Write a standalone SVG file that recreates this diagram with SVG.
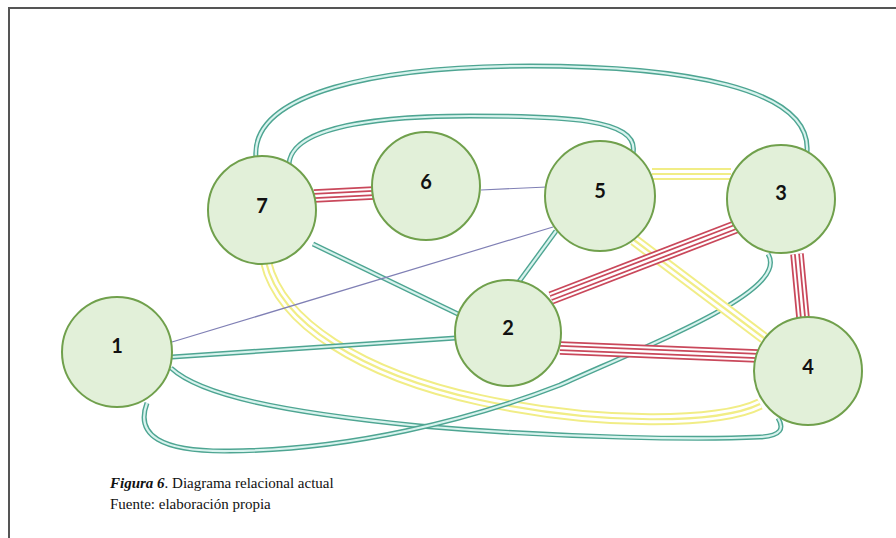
<svg xmlns="http://www.w3.org/2000/svg" width="896" height="538" viewBox="0 0 896 538">
<style>
.bg{fill:#ffffff}
.frame{fill:none;stroke:#555;stroke-width:2}
path{fill:none}
.to{stroke:#4ea592;stroke-width:5}
.ti{stroke:#d8f3ee;stroke-width:2.2}
.r1{stroke:#c9485b;stroke-width:13.5}
.r2{stroke:#ffffff;stroke-width:10}
.r3{stroke:#c9485b;stroke-width:6}
.r4{stroke:#ffffff;stroke-width:2.5}
.y1{stroke:#f1ed86;stroke-width:12}
.y2{stroke:#ffffff;stroke-width:8}
.y3{stroke:#f1ed86;stroke-width:2.2}
.pu{stroke:#8080b5;stroke-width:1.2}
.node circle{fill:#e2f0d9;stroke:#70a04c;stroke-width:2}
.node text{font-family:Lato,"Liberation Sans",sans-serif;font-weight:bold;font-size:20px;fill:#111;text-anchor:middle}
.cap{font-family:"Liberation Serif","Times New Roman",serif;font-size:15px;fill:#111}
</style>
<rect class="bg" x="0" y="0" width="896" height="538"/>
<path class="frame" d="M9 539 V8 H897"/>
<g id="connectors">
  <g id="e7-3">
    <path class="to" d="M256 158 C250 92 380 66 530 66 C680 66 812 87 807 152"/>
    <path class="ti" d="M256 158 C250 92 380 66 530 66 C680 66 812 87 807 152"/>
  </g>
  <g id="e7-5">
    <path class="to" d="M289 165 C290 122 400 116 470 116 C560 116 640 118 633 153"/>
    <path class="ti" d="M289 165 C290 122 400 116 470 116 C560 116 640 118 633 153"/>
  </g>
  <g id="e7-4">
    <path class="y1" d="M266 262 C280 322 360 374 480 400 C600 426 720 424 760 404"/>
    <path class="y2" d="M266 262 C280 322 360 374 480 400 C600 426 720 424 760 404"/>
    <path class="y3" d="M266 262 C280 322 360 374 480 400 C600 426 720 424 760 404"/>
  </g>
  <g id="e1-4">
    <path class="to" d="M171 368 C200 395 280 412 420 426 C560 438 700 440 760 437 C782 436 784 428 778 418"/>
    <path class="ti" d="M171 368 C200 395 280 412 420 426 C560 438 700 440 760 437 C782 436 784 428 778 418"/>
  </g>
  <g id="e1-3">
    <path class="to" d="M147 403 C135 435 160 452 230 451 C350 450 470 420 560 385 C660 340 790 290 768 254"/>
    <path class="ti" d="M147 403 C135 435 160 452 230 451 C350 450 470 420 560 385 C660 340 790 290 768 254"/>
  </g>
  <g id="e7-6">
    <path class="r1" d="M314 196 L374 193"/>
    <path class="r2" d="M314 196 L374 193"/>
    <path class="r3" d="M314 196 L374 193"/>
    <path class="r4" d="M314 196 L374 193"/>
  </g>
  <path id="e6-5" class="pu" d="M481 190 L547 187"/>
  <g id="e5-3">
    <path class="y1" d="M652 174 L731 174"/>
    <path class="y2" d="M652 174 L731 174"/>
    <path class="y3" d="M652 174 L731 174"/>
  </g>
  <g id="e7-2">
    <path class="to" d="M313 244 L460 315"/>
    <path class="ti" d="M313 244 L460 315"/>
  </g>
  <path id="e1-5" class="pu" d="M172 342 L553 227"/>
  <g id="e1-2">
    <path class="to" d="M172 357 L456 338"/>
    <path class="ti" d="M172 357 L456 338"/>
  </g>
  <g id="e5-2">
    <path class="to" d="M556 231 L518 283"/>
    <path class="ti" d="M556 231 L518 283"/>
  </g>
  <g id="e5-4">
    <path class="y1" d="M634 240 L764 338"/>
    <path class="y2" d="M634 240 L764 338"/>
    <path class="y3" d="M634 240 L764 338"/>
  </g>
  <g id="e2-3">
    <path class="r1" d="M551 298 L738 226"/>
    <path class="r2" d="M551 298 L738 226"/>
    <path class="r3" d="M551 298 L738 226"/>
    <path class="r4" d="M551 298 L738 226"/>
  </g>
  <g id="e2-4">
    <path class="r1" d="M560 348 L758 356"/>
    <path class="r2" d="M560 348 L758 356"/>
    <path class="r3" d="M560 348 L758 356"/>
    <path class="r4" d="M560 348 L758 356"/>
  </g>
  <g id="e3-4">
    <path class="r1" d="M797 254 L803 318"/>
    <path class="r2" d="M797 254 L803 318"/>
    <path class="r3" d="M797 254 L803 318"/>
    <path class="r4" d="M797 254 L803 318"/>
  </g>
</g>
<g id="n7" class="node"><circle cx="262" cy="210" r="54"/><text x="262" y="213">7</text></g>
<g id="n6" class="node"><circle cx="426" cy="186" r="54"/><text x="426" y="189">6</text></g>
<g id="n5" class="node"><circle cx="600" cy="196" r="55"/><text x="600" y="198">5</text></g>
<g id="n3" class="node"><circle cx="781" cy="199" r="54"/><text x="781" y="200">3</text></g>
<g id="n2" class="node"><circle cx="508" cy="333" r="53"/><text x="508" y="335">2</text></g>
<g id="n4" class="node"><circle cx="808" cy="371" r="54"/><text x="808" y="374">4</text></g>
<g id="n1" class="node"><circle cx="117" cy="352" r="55"/><text x="117" y="353">1</text></g>
<g id="caption">
  <text class="cap" x="110" y="488"><tspan font-weight="bold" font-style="italic">Figura 6</tspan>. Diagrama relacional actual</text>
  <text class="cap" x="110" y="509">Fuente: elaboración propia</text>
</g>
</svg>
